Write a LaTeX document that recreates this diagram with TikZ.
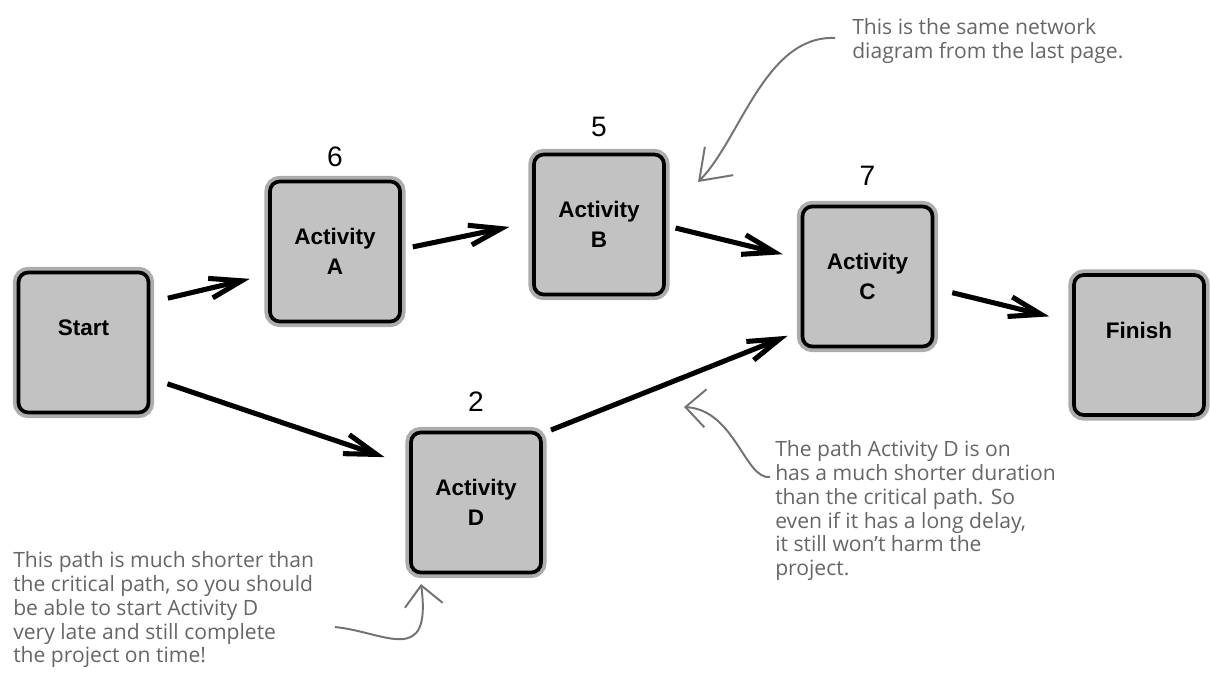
\documentclass[tikz,border=0pt]{standalone}
\usepackage{fontspec}
\usetikzlibrary{arrows.meta,positioning}
\newfontfamily\boxfont{Liberation Sans}
\newfontfamily\notefont{Open Sans}

\begin{document}
\begin{tikzpicture}[x=0.025cm,y=-0.025cm,
  actbox/.style={draw=black,line width=2.6pt,fill=black!24,rounded corners=7pt,
    minimum width=3.25cm,minimum height=3.5cm,align=center,
    font=\boxfont\bfseries\fontsize{16}{21}\selectfont,
    preaction={draw=black!32,line width=8pt}},
  num/.style={inner sep=0pt,font=\boxfont\fontsize{20}{24}\selectfont},
  flow/.style={-{Straight Barb[length=0.8cm,width=0.5cm]},line width=3.6pt},
  note/.style={inner sep=0pt,anchor=north west,align=left,text=black!60,
    font=\notefont\fontsize{15}{17}\selectfont},
  pointer/.style={-{Straight Barb[length=0.5cm,width=0.95cm]},line width=1.4pt,draw=black!55}]
  \useasboundingbox (0,0) rectangle (1210,689);

  % activity boxes
  \node[actbox] (start)  at (83.5,342.5) {Start\\ \mbox{}};
  \node[actbox] (a)      at (335,251.5)  {Activity\\A};
  \node[actbox] (b)      at (599,224.5)  {Activity\\B};
  \node[actbox] (c)      at (867.5,276.5){Activity\\C};
  \node[actbox] (d)      at (476,502.5)  {Activity\\D};
  \node[actbox] (finish) at (1139,345)   {Finish\\ \mbox{}};

  % durations
  \node[num,above=0.32cm of a] (na) {6};
  \node[num,above=0.4cm of b]  (nb) {5};
  \node[num,above=0.47cm of c] (nc) {7};
  \node[num,above=0.47cm of d] (nd) {2};

  \draw[flow,shorten <=0.45cm,shorten >=0.47cm] (start.31) -- (a.199);
  \draw[flow,shorten <=0.45cm,shorten >=0.65cm] (start.-28) -- (d.151);
  \draw[flow,shorten <=0.28cm,shorten >=0.58cm] (a.2) -- (b.178);
  \draw[flow,shorten <=0.25cm,shorten >=0.46cm] (b.-1) -- (c.165);
  \draw[flow,shorten <=0.22cm,shorten >=0.35cm] (d.46) -- (c.219);
  \draw[flow,shorten <=0.46cm,shorten >=0.59cm] (c.-10) -- (finish.161);

  % hand-written notes
  \node[note] (n1) at (852,18) {This is the same network\\diagram from the last page.};
  \node[note] (n2) at (775,440) {The path Activity D is on\\has a much shorter duration\\than the critical path. So\\even if it has a long delay,\\it still won’t harm the\\project.};
  \node[note] (n3) at (13,551) {This path is much shorter than\\the critical path, so you should\\be able to start Activity D\\very late and still complete\\the project on time!};

  \coordinate (tip1) at (698,182);
  \coordinate (tip2) at (684,407);
  \coordinate (tip3) at (421,584);
  \draw[pointer,-{Straight Barb[length=0.7cm,width=1.0cm]}] (835,38) .. controls (765,35) and (740,140) .. (tip1);
  \draw[pointer] (770,477) .. controls (745,480) and (735,410) .. (tip2);
  \draw[pointer] (335,627) .. controls (385,632) and (432,668) .. (tip3);
\end{tikzpicture}
\end{document}
